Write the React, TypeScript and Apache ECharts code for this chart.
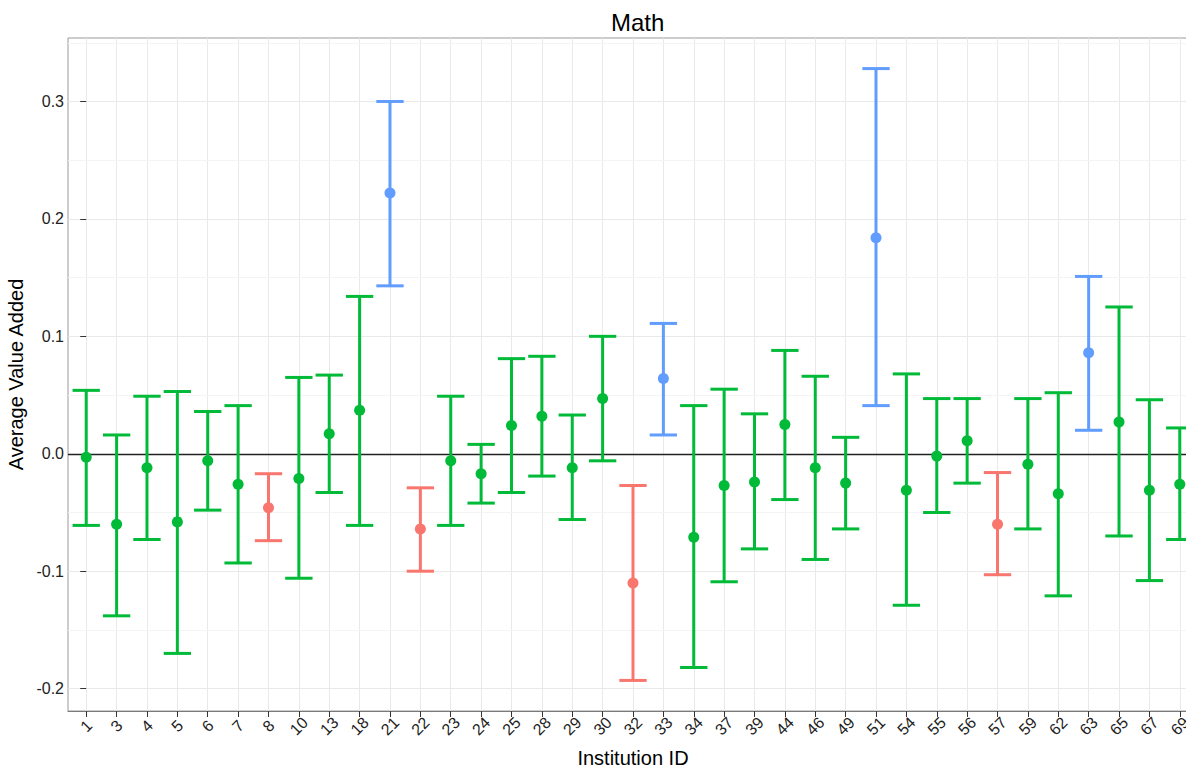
import React, { useEffect, useRef } from "react";
import * as echarts from "echarts";

const categories = ["1","3","4","5","6","7","8","10","13","18","21","22","23","24","25","28","29","30","32","33","34","37","39","44","46","49","51","54","55","56","57","59","62","63","65","67","69"];
const estimate = [-0.003,-0.060,-0.012,-0.058,-0.006,-0.026,-0.046,-0.021,0.017,0.037,0.222,-0.064,-0.006,-0.017,0.024,0.032,-0.012,0.047,-0.110,0.064,-0.071,-0.027,-0.024,0.025,-0.012,-0.025,0.184,-0.031,-0.002,0.011,-0.060,-0.009,-0.034,0.086,0.027,-0.031,-0.026];
const lower = [-0.061,-0.138,-0.073,-0.170,-0.048,-0.093,-0.074,-0.106,-0.033,-0.061,0.143,-0.100,-0.061,-0.042,-0.033,-0.019,-0.056,-0.006,-0.193,0.016,-0.182,-0.109,-0.081,-0.039,-0.090,-0.064,0.041,-0.129,-0.050,-0.025,-0.103,-0.064,-0.121,0.020,-0.070,-0.108,-0.073];
const upper = [0.054,0.016,0.049,0.053,0.036,0.041,-0.017,0.065,0.067,0.134,0.300,-0.029,0.049,0.008,0.081,0.083,0.033,0.100,-0.027,0.111,0.041,0.055,0.034,0.088,0.066,0.014,0.328,0.068,0.047,0.047,-0.016,0.047,0.052,0.151,0.125,0.046,0.022];
// 0 = below average, 1 = average, 2 = above average
const group = [1,1,1,1,1,1,0,1,1,1,2,0,1,1,1,1,1,1,0,2,1,1,1,1,1,1,2,1,1,1,0,1,1,2,1,1,1];
const groupColors = ["#F8766D", "#00BA38", "#619CFF"];
const yTicks = [-0.2, -0.1, 0, 0.1, 0.2, 0.3];
const yMinorLines = [-0.15, -0.05, 0.05, 0.15, 0.25, 0.35];

const FONT = "'Liberation Sans', Arial, Helvetica, sans-serif";

export default function App() {
  const ref = useRef<HTMLDivElement>(null);
  useEffect(() => {
    if (!ref.current) return;
    const chart = echarts.init(ref.current, undefined, { renderer: "svg" });
    const lo = Math.min(...lower);
    const hi = Math.max(...upper);
    const pad = (hi - lo) * 0.05;
    const yMin = lo - pad;
    const yMax = hi + pad;
    const idx = categories.map((_, i) => i);
    const data = categories.map((_, i) => [i, estimate[i], lower[i], upper[i], group[i]]);

    chart.setOption({
      animation: false,
      textStyle: { fontFamily: FONT },
      title: {
        text: "Math",
        left: 606,
        top: 5,
        textStyle: { fontFamily: FONT, fontSize: 24, fontWeight: "normal", color: "#000" },
      },
      grid: {
        left: 68,
        top: 38,
        bottom: 58,
        width: 1130,
        outerBoundsMode: "none",
        containLabel: false,
        show: true,
        borderColor: "#9a9a9a",
        borderWidth: 1,
        backgroundColor: "#fff",
      },
      xAxis: {
        type: "value",
        min: -0.6,
        max: categories.length - 0.4,
        name: "Institution ID",
        nameLocation: "middle",
        nameGap: 37,
        nameTextStyle: { fontFamily: FONT, fontSize: 20, color: "#000" },
        axisLine: { show: true, onZero: false, lineStyle: { color: "#7a7a7a", width: 1 } },
        axisTick: { show: true, length: 6, customValues: idx, lineStyle: { color: "#333", width: 1 } },
        axisLabel: {
          customValues: idx,
          formatter: (v: number) => categories[Math.round(v)] ?? "",
          rotate: 45,
          align: "center",
          verticalAlign: "middle",
          margin: 15,
          fontSize: 16,
          color: "#222",
          fontFamily: FONT,
        },
        splitLine: { show: true, lineStyle: { color: "#e9e9e9", width: 1 } },
      },
      yAxis: {
        type: "value",
        min: yMin,
        max: yMax,
        name: "Average Value Added",
        nameLocation: "middle",
        nameGap: 36,
        nameTextStyle: { fontFamily: FONT, fontSize: 20, color: "#000" },
        axisLine: { show: false },
        axisTick: { show: true, length: 6, customValues: yTicks, lineStyle: { color: "#333", width: 1 } },
        axisLabel: {
          customValues: yTicks,
          formatter: (v: number) => v.toFixed(1),
          margin: 4,
          fontSize: 16,
          color: "#222",
          fontFamily: FONT,
        },
        splitLine: { show: true, lineStyle: { color: "#e9e9e9", width: 1 } },
      },
      series: [
        {
          type: "line",
          data: [],
          z: 1,
          silent: true,
          markLine: {
            silent: true,
            z: 1,
            symbol: "none",
            label: { show: false },
            animation: false,
            data: [
              ...yMinorLines.filter((v) => v < yMax).map((v) => ({ yAxis: v, lineStyle: { color: "#f4f4f4", width: 1, type: "solid" } })),
              { yAxis: 0, lineStyle: { color: "#222", width: 1.3, type: "solid" } },
            ],
          },
        },
        {
          type: "custom",
          z: 3,
          data,
          encode: { x: 0, y: [1, 2, 3] },
          renderItem: (params: any, api: any) => {
            const x = api.value(0);
            const color = groupColors[api.value(4)];
            const pt = api.coord([x, api.value(1)]);
            const pLo = api.coord([x, api.value(2)]);
            const pHi = api.coord([x, api.value(3)]);
            const half = api.size([0.9, 0])[0] / 2;
            const lineStyle = { stroke: color, lineWidth: 3 };
            return {
              type: "group",
              children: [
                { type: "line", shape: { x1: pt[0], y1: pLo[1], x2: pt[0], y2: pHi[1] }, style: lineStyle },
                { type: "line", shape: { x1: pt[0] - half, y1: pHi[1], x2: pt[0] + half, y2: pHi[1] }, style: lineStyle },
                { type: "line", shape: { x1: pt[0] - half, y1: pLo[1], x2: pt[0] + half, y2: pLo[1] }, style: lineStyle },
                { type: "circle", shape: { cx: pt[0], cy: pt[1], r: 5.5 }, style: { fill: color } },
              ],
            };
          },
        },
      ],
    });
    return () => chart.dispose();
  }, []);
  return (
    <div
      ref={ref}
      style={{ position: "fixed", left: 0, top: 0, width: 1186, height: 769, background: "#fff" }}
    />
  );
}
